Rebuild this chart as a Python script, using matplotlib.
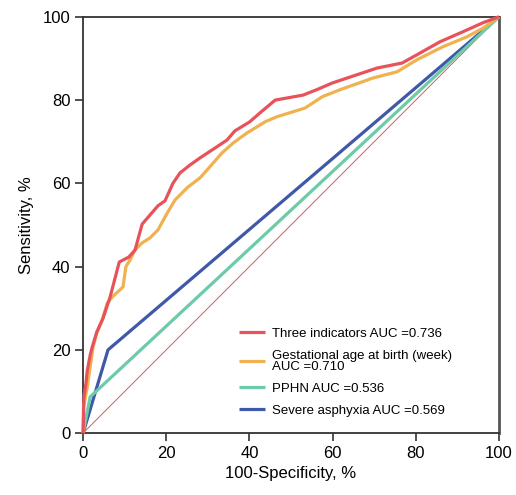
"""
ROC curves for the three-indicator model and its single predictors.
"""

import matplotlib

matplotlib.use("Agg")

import matplotlib.pyplot as plt

plt.rcParams["font.family"] = ["Liberation Sans", "DejaVu Sans"]

# Three indicators (AUC 0.736)
three_x = [0, 0.1, 0.2, 0.7, 1.0, 1.7, 2.2, 3.3, 4.8, 6.5, 8.7, 11.0, 12.5,
           14.2, 16.1, 18.0, 19.7, 21.6, 23.3, 25.7, 28.1, 32.2, 34.6, 36.5,
           40.1, 42.5, 46.2, 52.9, 56.2, 59.9, 63.5, 70.7, 76.7, 80.3, 85.8,
           91.3, 96.2, 100]
three_y = [0, 4.0, 8.7, 12.0, 15.0, 18.7, 20.7, 24.3, 27.6, 32.7, 41.1, 42.3,
           44.0, 50.2, 52.4, 54.6, 55.8, 60.0, 62.5, 64.4, 66.1, 68.8, 70.4,
           72.6, 74.8, 76.9, 80.0, 81.2, 82.5, 84.1, 85.3, 87.7, 88.9, 90.9,
           94.0, 96.4, 98.6, 100]

# Gestational age at birth (AUC 0.710)
gest_x = [0, 0.1, 1.0, 1.7, 2.4, 3.3, 4.6, 5.8, 7.0, 9.6, 10.3, 11.3, 12.5,
          14.2, 16.1, 18.0, 20.2, 22.1, 25.2, 28.1, 30.5, 33.4, 36.1, 39.4,
          42.5, 43.8, 46.6, 53.4, 57.5, 61.8, 69.7, 75.5, 80.3, 86.5, 92.3,
          96.2, 100]
gest_y = [0, 6.2, 11.0, 15.9, 20.7, 24.0, 27.2, 31.2, 32.7, 35.1, 40.0, 41.6,
          44.0, 45.7, 46.9, 48.8, 52.8, 56.0, 59.1, 61.3, 64.0, 67.3, 69.7,
          72.1, 74.0, 74.8, 76.0, 78.1, 80.8, 82.5, 85.3, 86.8, 89.7, 92.8,
          95.2, 97.3, 100]

# PPHN (AUC 0.536)
pphn_x = [0, 1.7, 100]
pphn_y = [0, 8.7, 100]

# Severe asphyxia (AUC 0.569)
asph_x = [0, 6.0, 100]
asph_y = [0, 20.0, 100]

labels = [
    "Three indicators AUC =0.736",
    "Gestational age at birth (week)\nAUC =0.710",
    "PPHN AUC =0.536",
    "Severe asphyxia AUC =0.569",
]
colors = ["#e8525a", "#f0b14f", "#6dcba8", "#3f59a8"]

fig = plt.figure(figsize=(5.16, 4.95), dpi=100)
ax = fig.add_axes([0.161, 0.125, 0.806, 0.841])

ax.plot([0, 100], [0, 100], color="#d0605a", lw=0.7)

series = [(three_x, three_y), (gest_x, gest_y), (pphn_x, pphn_y), (asph_x, asph_y)]
handles = [None] * 4
for i in [3, 2, 1, 0]:
    xs, ys = series[i]
    (line,) = ax.plot(xs, ys, color=colors[i], lw=2.3, label=labels[i],
                      solid_capstyle="butt", clip_on=False, zorder=6 - i)
    handles[i] = line

ax.set_xlim(0, 100)
ax.set_ylim(0, 100)
ax.set_xticks([0, 20, 40, 60, 80, 100])
ax.set_yticks([0, 20, 40, 60, 80, 100])
ax.tick_params(labelsize=12, length=6, width=1.2, color="#333333", pad=3)

for side in ["left", "bottom", "top"]:
    ax.spines[side].set_color("#333333")
    ax.spines[side].set_linewidth(1.3)
ax.spines["right"].set_color("#555555")
ax.spines["right"].set_linewidth(2)

ax.set_xlabel("100-Specificity, %", fontsize=12, labelpad=4)
ax.set_ylabel("Sensitivity, %", fontsize=12, labelpad=6)

leg = ax.legend(handles=handles, loc="lower left", bbox_to_anchor=(0.346, 0.01),
                frameon=False, fontsize=9.5, handlelength=2.0,
                handletextpad=0.55, labelspacing=0.75)
for t in leg.get_texts():
    t.set_linespacing(0.9)

fig.savefig("out.png", dpi=100)
plt.close(fig)
